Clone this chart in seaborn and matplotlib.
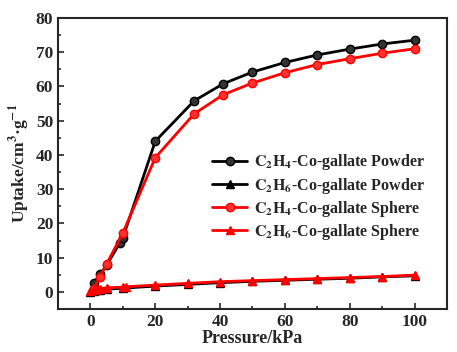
import pandas as pd
import numpy as np
import matplotlib.pyplot as plt
import seaborn as sns

# Data
p_c2h4_powder = [1, 3, 5, 9, 10, 20, 32, 41, 50, 60, 70, 80, 90, 100]
u_c2h4_powder = [2.5, 5.2, 7.8, 14.2, 15.8, 44.0, 55.8, 60.8, 64.2, 67.0, 69.2, 70.9, 72.4, 73.5]

p_c2h4_sphere = [1, 3, 5, 10, 20, 32, 41, 50, 60, 70, 80, 90, 100]
u_c2h4_sphere = [1.0, 4.5, 8.2, 17.2, 39.2, 52.0, 57.6, 61.0, 64.0, 66.4, 68.1, 69.7, 71.0]

p_c2h6_powder = [0, 1, 2, 3, 5, 10, 20, 30, 40, 50, 60, 70, 80, 90, 100]
u_c2h6_powder = [0.1, 0.3, 0.5, 0.6, 0.8, 1.1, 1.7, 2.2, 2.7, 3.1, 3.4, 3.7, 4.0, 4.4, 4.7]

p_c2h6_sphere = [0, 1, 2, 3, 5, 10, 11, 20, 30, 40, 50, 60, 70, 80, 90, 100]
u_c2h6_sphere = [0.2, 0.5, 0.8, 1.0, 1.2, 1.4, 1.5, 2.0, 2.5, 3.0, 3.3, 3.6, 3.9, 4.2, 4.5, 4.9]

labels = [r"$\mathbf{C_2H_4}$-Co-gallate Powder",
          r"$\mathbf{C_2H_6}$-Co-gallate Powder",
          r"$\mathbf{C_2H_4}$-Co-gallate Sphere",
          r"$\mathbf{C_2H_6}$-Co-gallate Sphere"]

sns.set_style("ticks")
plt.rcParams['font.family'] = ['Liberation Serif', 'DejaVu Serif']
plt.rcParams['font.weight'] = 'bold'
plt.rcParams['mathtext.fontset'] = 'stix'
plt.rcParams['xtick.direction'] = 'in'
plt.rcParams['ytick.direction'] = 'in'

fig = plt.figure(figsize=(4.57, 3.52), dpi=100)
ax = fig.add_axes([0.127, 0.122, 0.851, 0.827])

series = [
    (p_c2h4_powder, u_c2h4_powder, 'black', 'o', '#333333'),
    (p_c2h6_powder, u_c2h6_powder, 'black', '^', 'black'),
    (p_c2h4_sphere, u_c2h4_sphere, 'red', 'o', '#ff3030'),
    (p_c2h6_sphere, u_c2h6_sphere, 'red', '^', 'red'),
]
for (x, y, c, m, fc), lab in zip(series, labels):
    sns.lineplot(x=x, y=y, ax=ax, color=c, marker=m, markersize=6,
                 markerfacecolor=fc, markeredgecolor=c, markeredgewidth=1,
                 linewidth=2.0, label=lab)

ax.set_xlim(-10, 110)
ax.set_ylim(-5, 80)
ax.set_xticks([0, 20, 40, 60, 80, 100])
ax.set_yticks([0, 10, 20, 30, 40, 50, 60, 70, 80])
ax.set_xticks([10, 30, 50, 70, 90], minor=True)
ax.set_yticks([5, 15, 25, 35, 45, 55, 65, 75], minor=True)
ax.tick_params(which='both', top=False, right=False, width=1.2, labelsize=12.5)
ax.tick_params(which='major', length=4)
ax.tick_params(which='minor', length=2.5)
for s in ax.spines.values():
    s.set_linewidth(1.5)
    s.set_visible(True)

ax.set_xlabel("Pressure/kPa", fontsize=13, fontweight='bold', labelpad=0)
ax.set_ylabel(r"Uptake/cm$^{\mathbf{3}}$·g$^{\mathbf{-1}}$", fontsize=12.5,
              fontweight='bold', labelpad=3)

leg = ax.legend(loc='upper left', bbox_to_anchor=(0.38, 0.56), frameon=False,
                fontsize=11.5, handlelength=2.2, handletextpad=0.4,
                labelspacing=0.2, borderaxespad=0)
for t in leg.get_texts():
    t.set_fontweight('bold')

plt.savefig("out.png", dpi=100)
